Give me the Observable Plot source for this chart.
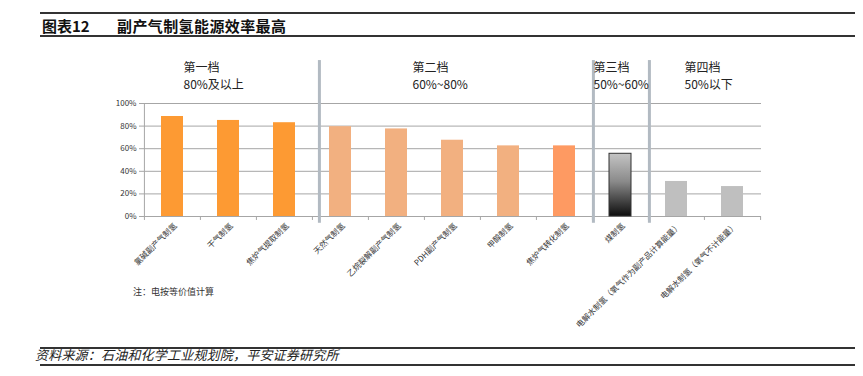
<!DOCTYPE html>
<html><head><meta charset="utf-8">
<script src="https://cdn.jsdelivr.net/npm/d3@7"></script>
<script src="https://cdn.jsdelivr.net/npm/@observablehq/plot@0.6"></script>
<style>
body{margin:0;background:#fff;font-family:"Noto Sans CJK SC","Noto Sans",sans-serif;}
#wrap{position:relative;width:863px;height:376px;overflow:hidden;background:#fff}
#chart{position:absolute;left:0;top:0}
.hline{position:absolute;left:40px;width:815px;height:2px;background:#333}
.title{position:absolute;top:16px;font-size:15px;font-weight:bold;color:#111;white-space:pre;line-height:20px}
#note{position:absolute;left:133px;top:286px;font-size:9px;color:#333;line-height:12px}
#source{position:absolute;left:35px;top:346px;font-size:13px;font-style:italic;color:#222;line-height:18px;letter-spacing:0.2px}
</style></head>
<body><div id="wrap">
<div id="chart"></div>
<div class="hline" style="top:12px"></div>
<div class="hline" style="top:35px"></div>
<div class="title" style="left:42px">图表12</div>
<div class="title" style="left:117px;letter-spacing:0.4px">副产气制氢能源效率最高</div>
<div id="note">注：电按等价值计算</div>
<div class="hline" style="top:347px"></div>
<div class="hline" style="top:364px"></div>
<div id="source">资料来源：石油和化学工业规划院，平安证券研究所</div>
</div>
<script>
// ---- data ----
const categories = ["氯碱副产气制氢","干气制氢","焦炉气提取制氢","天然气制氢","乙烷裂解副产气制氢","PDH副产气制氢","甲醇制氢","焦炉气转化制氢","煤制氢","电解水制氢（氧气作为副产品计算能量）","电解水制氢（氧气不计能量）"];
const values = [88.5, 85, 83, 79.5, 77.5, 67.5, 62.5, 62.5, 55.5, 31, 26.5];
const tierLabels = ["第一档\n80%及以上","第二档\n60%~80%","第三档\n50%~60%","第四档\n50%以下"];
const tierStartIndex = [0, 3, 8, 9];
const yTicks = [0, 20, 40, 60, 80, 100];

// ---- styles ----
const barColors = ["#FD9A33","#FD9A33","#FD9A33","#F2B080","#F2B080","#F2B080","#F2B080","#FE9A62","url(#coalGrad)","#BFBFBF","#BFBFBF"];
const tierLabelAnchorIndex = [0, 4, 8, 9];
const tierLabelDx = [11, 16, -27, 8];
const separatorDx = [7, 1, 1];

const W = 863, H = 376, ML = 143, MR = 102, MT = 103, MB = 160;
const step = (W - ML - MR) / categories.length;

const rows = categories.map((c, i) => ({cat: c, value: values[i], color: barColors[i]}));
const plainRows = rows.filter(r => !r.color.startsWith("url"));
const coalRows = rows.filter(r => r.color.startsWith("url"));

const marks = [
  Plot.ruleY(yTicks, {stroke: "#A6A6A6", strokeWidth: 1}),
  Plot.ruleX([0], {x: () => categories[0], y1: 0, y2: 100, dx: -step/2, stroke: "#A6A6A6"}),
  Plot.ruleX(categories, {x: d => d, y1: 0, y2: -3.5, dx: -step/2, stroke: "#A6A6A6"}),
  Plot.ruleX([categories[categories.length-1]], {x: d => d, y1: 0, y2: -3.5, dx: step/2, stroke: "#A6A6A6"}),
  Plot.barY(plainRows, {x: "cat", y: "value", fill: "color"}),
  Plot.barY(coalRows, {x: "cat", y: "value", fill: "url(#coalGrad)", stroke: "#333", strokeWidth: 1}),
  ...tierStartIndex.slice(1).map((i, k) => Plot.ruleX([categories[i]], {x: d => d, y1: -6, y2: 138, dx: -step/2 + separatorDx[k], stroke: "#B2BAC2", strokeWidth: 3})),
  Plot.text(categories, {x: d => d, y: 0, text: d => d, rotate: -45, textAnchor: "end", lineAnchor: "middle", dx: 3, dy: 8, fontSize: 8, fill: "#333"}),
  ...tierLabels.map((t, k) => Plot.text([t], {x: () => categories[tierLabelAnchorIndex[k]], y: 125, text: d => d, textAnchor: "start", lineAnchor: "middle", lineHeight: 1.4, dx: tierLabelDx[k], fontSize: 12, fill: "#222"})),
  Plot.axisY({ticks: yTicks, tickFormat: d => d + "%", tickSize: 4, tickPadding: 3, fontSize: 8, stroke: "#A6A6A6", color: "#333", label: null})
];

const chart = Plot.plot({
  width: W, height: H,
  marginLeft: ML, marginRight: MR, marginTop: MT, marginBottom: MB,
  style: {fontFamily: '"Noto Sans CJK SC","Noto Sans",sans-serif', background: "transparent", overflow: "visible"},
  x: {domain: categories, paddingInner: 0.6, paddingOuter: 0.3, axis: null},
  y: {domain: [0, 100], axis: null},
  color: {type: "identity"},
  marks
});

const svg = d3.select(chart);
const defs = svg.insert("defs", ":first-child");
const g = defs.append("linearGradient").attr("id", "coalGrad").attr("x1", 0).attr("y1", 0).attr("x2", 0).attr("y2", 1);
g.append("stop").attr("offset", "0%").attr("stop-color", "#C4C4C4");
g.append("stop").attr("offset", "45%").attr("stop-color", "#8a8a8a");
g.append("stop").attr("offset", "100%").attr("stop-color", "#0d0d0d");

document.getElementById("chart").appendChild(chart);
</script>
</body></html>
